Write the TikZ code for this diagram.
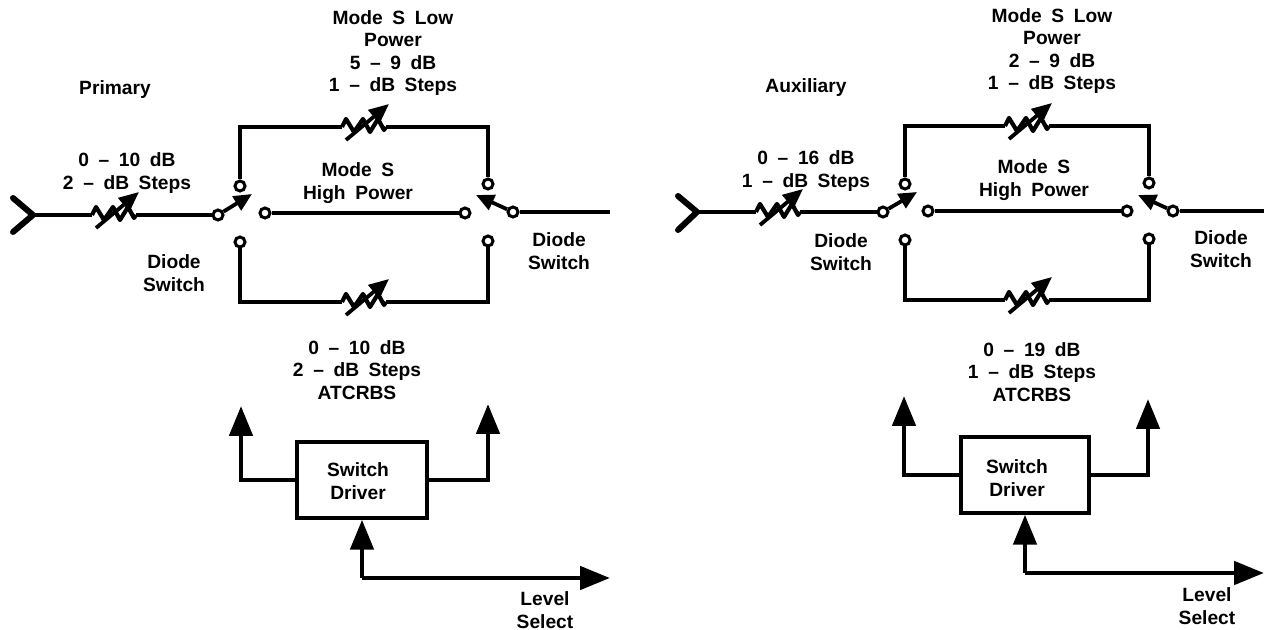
\documentclass[tikz,border=0pt]{standalone}
\usepackage{fontspec}
\setmainfont[WordSpace=1.8]{Liberation Sans}
\usetikzlibrary{arrows.meta,positioning,calc}
\tikzset{
  >={Triangle[length=15pt,width=11.5pt]},
  wire/.style={line width=2.4pt, line join=miter},
  horn/.style={line width=3pt, line cap=round},
  thinarrow/.style={wire, ->},
  switcharm/.style={line width=1.9pt, -{Triangle[length=9pt,width=8pt]}},
  contact/.style={draw, circle, line width=1.5pt, fill=white, inner sep=0pt, minimum size=5pt},
  driverbox/.style={draw, line width=1.7pt, fill=white, inner sep=0pt, align=center},
  title/.style={font=\bfseries\fontsize{9.6}{11.2}\selectfont, align=center, inner sep=0pt},
  attn/.pic={
    \coordinate (-l) at (-22,0);
    \coordinate (-r) at (22,0);
    \draw[line width=2.1pt, line join=round] (-l) -- (-18,-8) -- (-10,5) -- (-1,-8) -- (6,5) -- (14,-8) -- (20,3) -- (-r);
    \draw[line width=1.9pt, -{Triangle[length=10pt,width=8.5pt]}] (-18,13) -- (25,-23);
  },
}
\begin{document}
\begin{tikzpicture}[x=0.5pt, y=-0.5pt]
  \path[use as bounding box] (0,0) rectangle (1264,630);

  % primary side
  \coordinate (forkP) at (33,215);
  \coordinate (hornPa) at (13,198);
  \coordinate (hornPb) at (13,232);
  \pic (attnP) at (114,215) {attn};
  \pic (attnPt) at (364,127) {attn};
  \pic (attnPb) at (364,302) {attn};
  \node[contact] (inP) at (218,215) {};
  \node[contact] (topP) at (240,186) {};
  \node[contact] (midP) at (265,213) {};
  \node[contact] (botP) at (240,242) {};
  \node[contact] (topPr) at (488,184) {};
  \node[contact] (midPr) at (465,213) {};
  \node[contact] (botPr) at (488,241) {};
  \node[contact] (outP) at (513,212) {};
  \coordinate (armP) at (252,194);
  \coordinate (armPr) at (476,195);
  \coordinate (endP) at (610,212);
  \node[driverbox, minimum width=65pt, minimum height=38pt] (driverP) at (362,480) {};
  \coordinate (levelP) at (362,578);
  \coordinate (levelPe) at (610,578);

  \draw[horn] (hornPa) -- (forkP) -- (hornPb);
  \draw[wire] (forkP) -- (attnP-l);
  \draw[wire] (attnP-r) -- (inP);
  \draw[switcharm] (inP) -- (armP);
  \draw[wire] (topP) |- (attnPt-l);
  \draw[wire] (attnPt-r) -| (topPr);
  \draw[wire] (midP) -- (midPr);
  \draw[wire] (botP) |- (attnPb-l);
  \draw[wire] (attnPb-r) -| (botPr);
  \draw[switcharm] (outP) -- (armPr);
  \draw[wire] (outP) -- (endP);
  \draw[thinarrow] (driverP.west) -| (241,406);
  \draw[thinarrow] (driverP.east) -| (488,404);
  \draw[thinarrow] (levelP) -- (driverP.south);
  \draw[thinarrow] (levelP) -- (levelPe);

  \node[title] (lowP) at (393,53) {Mode S Low\\Power\\5 -- 9 dB\\1 -- dB Steps};
  \node[title] (nameP) at (115,90) {Primary};
  \node[title] (inlabP) at (127,173) {0 -- 10 dB\\2 -- dB Steps};
  \node[title] (highP) at (358,183) {Mode S\\High Power};
  \node[title] (diodeP) at (174,273) {Diode\\Switch};
  \node[title] (diodePr) at (559,251) {Diode\\Switch};
  \node[title] (atcP) at (357,370) {0 -- 10 dB\\2 -- dB Steps\\ATCRBS};
  \node[title] (drvlabP) at (358,481) {Switch\\Driver};
  \node[title] (lvlP) at (545,610) {Level\\Select};

  % auxiliary side
  \coordinate (forkA) at (697,212);
  \coordinate (hornAa) at (678,196);
  \coordinate (hornAb) at (678,230);
  \pic (attnA) at (778,212) {attn};
  \pic (attnAt) at (1027,126) {attn};
  \pic (attnAb) at (1027,300) {attn};
  \node[contact] (inA) at (883,212) {};
  \node[contact] (topA) at (905,184) {};
  \node[contact] (midA) at (928,211) {};
  \node[contact] (botA) at (905,240) {};
  \node[contact] (topAr) at (1149,183) {};
  \node[contact] (midAr) at (1127,211) {};
  \node[contact] (botAr) at (1149,239) {};
  \node[contact] (outA) at (1173,211) {};
  \coordinate (armA) at (917,192);
  \coordinate (armAr) at (1138,195);
  \coordinate (endA) at (1264,211);
  \node[driverbox, minimum width=64pt, minimum height=38pt] (driverA) at (1025,475) {};
  \coordinate (levelA) at (1025,573);
  \coordinate (levelAe) at (1264,573);

  \draw[horn] (hornAa) -- (forkA) -- (hornAb);
  \draw[wire] (forkA) -- (attnA-l);
  \draw[wire] (attnA-r) -- (inA);
  \draw[switcharm] (inA) -- (armA);
  \draw[wire] (topA) |- (attnAt-l);
  \draw[wire] (attnAt-r) -| (topAr);
  \draw[wire] (midA) -- (midAr);
  \draw[wire] (botA) |- (attnAb-l);
  \draw[wire] (attnAb-r) -| (botAr);
  \draw[switcharm] (outA) -- (armAr);
  \draw[wire] (outA) -- (endA);
  \draw[thinarrow] (driverA.west) -| (904,396);
  \draw[thinarrow] (driverA.east) -| (1148,399);
  \draw[thinarrow] (levelA) -- (driverA.south);
  \draw[thinarrow] (levelA) -- (levelAe);

  \node[title] (lowA) at (1052,51) {Mode S Low\\Power\\2 -- 9 dB\\1 -- dB Steps};
  \node[title] (nameA) at (806,88) {Auxiliary};
  \node[title] (inlabA) at (806,171) {0 -- 16 dB\\1 -- dB Steps};
  \node[title] (highA) at (1034,180) {Mode S\\High Power};
  \node[title] (diodeA) at (841,252) {Diode\\Switch};
  \node[title] (diodeAr) at (1221,249) {Diode\\Switch};
  \node[title] (atcA) at (1032,372) {0 -- 19 dB\\1 -- dB Steps\\ATCRBS};
  \node[title] (drvlabA) at (1017,478) {Switch\\Driver};
  \node[title] (lvlA) at (1207,606) {Level\\Select};
\end{tikzpicture}
\end{document}
